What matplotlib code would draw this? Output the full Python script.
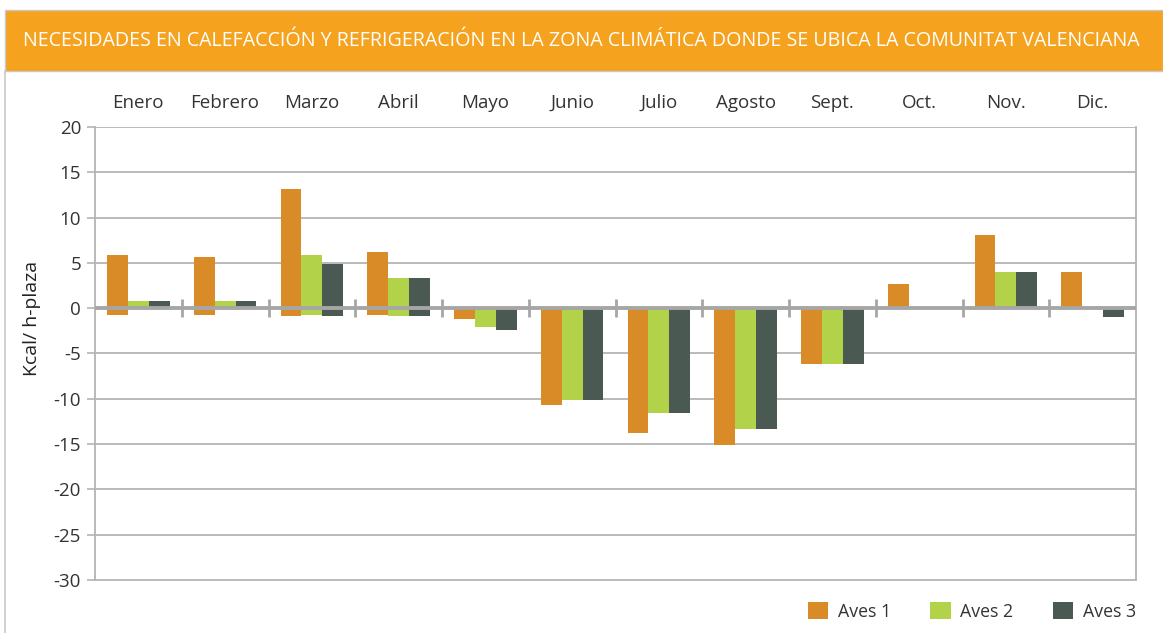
import numpy as np
import matplotlib.pyplot as plt
from matplotlib.patches import Rectangle, Patch
from matplotlib.lines import Line2D

plt.rcParams['font.family'] = ['Open Sans', 'DejaVu Sans']
plt.rcParams['axes.unicode_minus'] = False

meses = ['Enero', 'Febrero', 'Marzo', 'Abril', 'Mayo', 'Junio', 'Julio',
         'Agosto', 'Sept.', 'Oct.', 'Nov.', 'Dic.']
series = ['Aves 1', 'Aves 2', 'Aves 3']
colores = ['#D98B27', '#B2D249', '#4A5952']

# calefaccion (positivo) y refrigeracion (negativo)
aves1_pos = [5.9, 5.6, 13.2, 6.2, 0, 0, 0, 0, 0, 2.7, 8.1, 4.0]
aves1_neg = [-0.8, -0.8, -0.9, -0.8, -1.2, -10.7, -13.8, -15.1, -6.2, 0, 0, 0]
aves2_pos = [0.8, 0.8, 5.9, 3.3, 0, 0, 0, 0, 0, 0, 4.0, 0]
aves2_neg = [0, 0, -0.8, -0.9, -2.1, -10.1, -11.6, -13.3, -6.2, 0, 0, 0]
aves3_pos = [0.8, 0.8, 4.9, 3.3, 0, 0, 0, 0, 0, 0, 4.0, 0]
aves3_neg = [0, 0, -0.9, -0.9, -2.4, -10.1, -11.6, -13.3, -6.2, 0, 0, -1.0]

pos = [aves1_pos, aves2_pos, aves3_pos]
neg = [aves1_neg, aves2_neg, aves3_neg]

W, H = 1163, 633
fig = plt.figure(figsize=(W/100, H/100), dpi=100)

# cabecera naranja y marco
fig.patches.append(Rectangle((5/W, 1-71/H), 1-5/W, 61/H, transform=fig.transFigure,
                             facecolor='#F5A21E', edgecolor='#C8C8C8', lw=1))
fig.lines.append(Line2D([5/W, 5/W], [0, 1-71/H], transform=fig.transFigure,
                        color='#C8C8C8', lw=1.2))
fig.text(23/W, 1-41/H, 'NECESIDADES EN CALEFACCIÓN Y REFRIGERACIÓN EN LA ZONA CLIMÁTICA DONDE SE UBICA LA COMUNITAT VALENCIANA',
         color='white', fontsize=14.1, va='center', ha='left')

ax = fig.add_axes([95/W, 1-580/H, (1136-95)/W, (580-127)/H])
x = np.arange(len(meses))
bw = 0.24
for i in range(3):
    off = (i-1)*bw
    ax.bar(x+off, pos[i], bw, color=colores[i], zorder=3)
    ax.bar(x+off, neg[i], bw, color=colores[i], zorder=3)

ax.set_xlim(-0.5, 11.5)
ax.set_ylim(-30, 20)
ax.set_yticks(np.arange(-30, 21, 5))
for yv in np.arange(-25, 21, 5):
    ax.axhline(yv, color='#B4B4B4', lw=1.3, zorder=1)
ax.axhline(0, color='#A6A6A6', lw=2.8, zorder=4)
ax.vlines(x[:-1]+0.5, -1, 1, color='#A6A6A6', lw=2, zorder=4)

for s in ['left', 'right', 'bottom', 'top']:
    ax.spines[s].set_color('#B4B4B4')
    ax.spines[s].set_linewidth(1.3)
ax.spines['top'].set_visible(False)

ax.xaxis.tick_top()
ax.set_xticks(x)
ax.set_xticklabels(meses)
ax.tick_params(axis='x', length=0, pad=11, labelsize=13.5, labelcolor='#333333')
ax.tick_params(axis='y', length=6, color='#B4B4B4', width=1.2, labelsize=13.5,
               labelcolor='#333333', pad=4)
ax.set_ylabel('Kcal/ h-plaza', fontsize=14, color='#222222')
ax.yaxis.set_label_coords(-0.052, 0.578)

handles = [Patch(facecolor=c, label=s) for c, s in zip(colores, series)]
ax.legend(handles=handles, loc='upper right', bbox_to_anchor=(1.0, -0.048), ncol=3,
          frameon=False, fontsize=12.8, handlelength=1.15, handleheight=1.15,
          columnspacing=2.2, handletextpad=0.55, labelcolor='#333333',
          borderaxespad=0, borderpad=0)

fig.savefig('out.png', dpi=100)
